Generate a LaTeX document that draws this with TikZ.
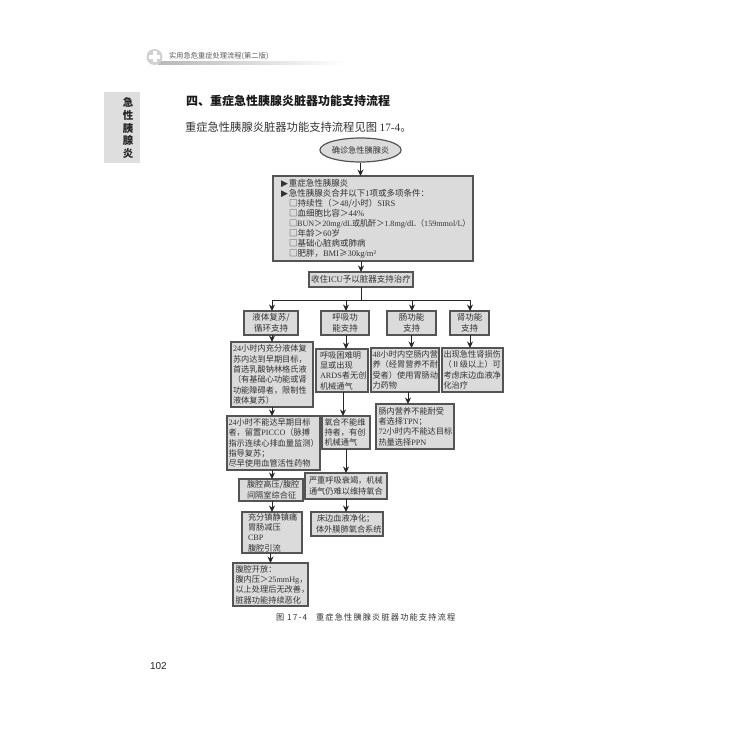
\documentclass[tikz,border=0pt]{standalone}
\usepackage{fontspec}
\setmainfont{Liberation Sans}
\newfontfamily\cjk{Noto Sans CJK SC}
\newfontfamily\lat{Liberation Serif}
\newfontfamily\sym{DejaVu Sans}
\usetikzlibrary{arrows.meta,shapes.geometric}
\definecolor{ink}{gray}{0.2}
\definecolor{edgec}{gray}{0.33}
\definecolor{boxfill}{gray}{0.86}
\newcommand{\la}[1]{{\lat #1}}
\newcommand{\tri}{{\sym\fontsize{9}{9}\selectfont ▶}}
\tikzset{
  x=1pt,y=-1pt,
  flowbox/.style={draw=edgec,line width=1.2pt,fill=boxfill,text=ink,inner sep=0pt,outer sep=0pt,
     font=\cjk\fontsize{8.2}{10.3}\selectfont},
  leftbox/.style={flowbox,align=left},
  midbox/.style={flowbox,align=center,font=\cjk\fontsize{8.5}{11.4}\selectfont},
  conn/.style={draw=black!85,line width=0.9pt},
  arr/.style={conn,-{Stealth[length=6.5pt,width=6pt]}},
  plain/.style={inner sep=0pt,outer sep=0pt,text=ink,anchor=west},
  bxsz/.style n args={3}{minimum width=#1pt,minimum height=#2pt,text width=#1pt-2*#3pt}
}
\begin{document}
\begin{tikzpicture}
\useasboundingbox (0,0) rectangle (730,730);
\fill[white] (0,0) rectangle (730,730);
% page furniture
\shade[left color=black!28,right color=white,draw=none] (158,62) rectangle (345,65);
\fill[black!18] (154.5,57) circle (8);
\fill[white] (152.5,51.5) rectangle (156.5,62.5);
\fill[white] (149,55) rectangle (160,59);
\node[plain,text=black!65,font=\cjk\fontsize{7.2}{8}\selectfont\addfontfeature{LetterSpace=1}] (hdr) at (169,56) {实用急危重症处理流程(第二版)};
\fill[black!13] (104,92) rectangle (139.5,163);
\node[inner sep=0pt,align=center,text=black!85,font=\cjk\bfseries\fontsize{10.5}{12.8}\selectfont] (side) at (128,128) {急\\性\\胰\\腺\\炎};
\node[plain,text=black!90,font=\cjk\bfseries\fontsize{12}{14}\selectfont] (head) at (186,101) {四、重症急性胰腺炎脏器功能支持流程};
\node[plain,font=\cjk\fontsize{11.3}{14}\selectfont] (body) at (185,127) {重症急性胰腺炎脏器功能支持流程见图 \la{17-4}。};
\node[plain,font=\cjk\fontsize{8.2}{10}\selectfont\addfontfeature{LetterSpace=14}] (cap) at (276,617) {图 17-4\hspace{9pt}重症急性胰腺炎脏器功能支持流程};
\node[plain,text=black!85,font=\fontsize{10}{12}\selectfont] (pg) at (150,666) {102};

% flow nodes
\node[draw=edgec,line width=1.2pt,fill=boxfill,ellipse,minimum width=75pt,minimum height=24pt,inner sep=0pt,text=ink,font=\cjk\fontsize{8.2}{10}\selectfont] (start) at (360.5,150) {确诊急性胰腺炎};
\node[leftbox,font=\cjk\fontsize{8.5}{10}\selectfont,bxsz={200}{85}{8}] (crit) at (373,218.5)
 {\tri\hspace{1pt}重症急性胰腺炎\\
  \tri\hspace{1pt}急性胰腺炎合并以下\la{1}项或多项条件：\\
  \hspace*{8pt}□持续性（＞\la{48}/小时）\la{SIRS}\\
  \hspace*{8pt}□血细胞比容＞\la{44\%}\\
  \hspace*{8pt}{\fontsize{8.1}{10}\selectfont □\la{BUN}＞\la{20mg/dL}或肌酐＞\la{1.8mg/dL}（\la{159mmol/L}）}\\
  \hspace*{8pt}□年龄＞\la{60}岁\\
  \hspace*{8pt}□基础心脏病或肺病\\
  \hspace*{8pt}□肥胖，\la{BMI}≥\la{30kg/m²}};
\node[midbox,minimum width=104pt,minimum height=15pt] (icu) at (361,279.5) {收住\la{ICU}予以脏器支持治疗};

\node[midbox,minimum width=54pt,minimum height=24pt,text width=50pt] (liq) at (271,323) {液体复苏/\\循环支持};
\node[midbox,minimum width=48pt,minimum height=24pt,text width=44pt] (resp) at (345,323) {呼吸功\\能支持};
\node[midbox,minimum width=49pt,minimum height=24pt,text width=45pt] (gut) at (411.5,323) {肠功能\\支持};
\node[midbox,minimum width=39pt,minimum height=24pt,text width=36pt] (kid) at (469.5,323) {肾功能\\支持};

\node[leftbox,bxsz={82}{65}{2}] (a1) at (272,374.5) {\la{24}小时内充分液体复\\苏内达到早期目标，\\首选乳酸钠林格氏液\\（有基础心功能或肾\\功能障碍者，限制性\\液体复苏）};
\node[leftbox,bxsz={93}{54}{1.5}] (a2) at (273.5,443) {\la{24}小时不能达早期目标\\者，留置\la{PICCO}（脉搏\\指示连续心排血量监测）\\指导复苏；\\尽早使用血管活性药物};
\node[leftbox,bxsz={64}{22}{8}] (a3) at (271,490) {腹腔高压/腹腔\\间隔室综合征};
\node[leftbox,bxsz={60}{41}{6}] (a4) at (272,532.5) {充分镇静镇痛\\胃肠减压\\\la{CBP}\\腹腔引流};
\node[leftbox,bxsz={75}{43}{2.5}] (a5) at (270.5,584.5) {腹腔开放：\\腹内压＞\la{25mmHg}，\\以上处理后无改善，\\脏器功能持续恶化};

\node[leftbox,bxsz={52}{43}{4}] (b1) at (342,370.5) {呼吸困难明\\显或出现\\\la{ARDS}者无创\\机械通气};
\node[leftbox,bxsz={48}{33}{2.5}] (b2) at (346,432.5) {氧合不能维\\持者，有创\\机械通气};
\node[leftbox,bxsz={82}{26}{4}] (b3) at (346,486) {严重呼吸衰竭，机械\\通气仍难以维持氧合};
\node[leftbox,bxsz={72}{24}{5}] (b4) at (347,524) {\hspace*{1pt}床边血液净化；\\体外膜肺氧合系统};

\node[leftbox,bxsz={68}{44}{1.5}] (c1) at (405,370) {\la{48}小时内空肠内营\\养（经胃营养不耐\\受者）使用胃肠动\\力药物};
\node[leftbox,bxsz={78}{45}{2.5}] (c2) at (415,426.5) {肠内营养不能耐受\\者选择\la{TPN}；\\\la{72}小时内不能达目标\\热量选择\la{PPN}};
\node[leftbox,bxsz={61}{44}{1.5}] (d1) at (472.5,370) {出现急性肾损伤\\（Ⅱ级以上）可\\考虑床边血液净\\化治疗};

% column positions
\coordinate (busA) at (272,300);
\coordinate (busB) at (346,300);
\coordinate (busC) at (412,300);
\coordinate (busD) at (470,300);
\coordinate (busM) at (361,300);

% connectors
\draw[arr] (start.south) -- (crit.north -| start.south);
\draw[arr] (crit.south -| icu.north) -- (icu.north);
\draw[conn] (icu.south) -- (busM);
\draw[conn] (busA) -- (busD);
\draw[arr] (busA) -- (liq.north -| busA);
\draw[arr] (busB) -- (resp.north -| busB);
\draw[arr] (busC) -- (gut.north -| busC);
\draw[arr] (busD) -- (kid.north -| busD);

\draw[arr] (liq.south -| busA) -- (a1.north -| busA);
\draw[arr] (a1.south -| busA) -- (a2.north -| busA);
\draw[arr] (a2.south -| busA) -- (a3.north -| busA);
\draw[arr] (a3.south -| busA) -- (a4.north -| busA);
\draw[arr] (a4.south -| a5.north) -- (a5.north);

\draw[arr] (resp.south -| busB) -- (b1.north -| busB);
\draw[arr] ([xshift=1pt]b1.south) -- ([xshift=-3pt]b2.north);
\draw[arr] (b2.south -| busB) -- (b3.north -| busB);
\draw[arr] (b3.south -| busB) -- (b4.north -| busB);

\draw[arr] (gut.south) -- (c1.north -| gut.south);
\draw[arr] ([xshift=3pt]c1.south) -- ([xshift=-7pt]c2.north);
\draw[arr] (kid.south -| busD) -- (d1.north -| busD);
\end{tikzpicture}
\end{document}
